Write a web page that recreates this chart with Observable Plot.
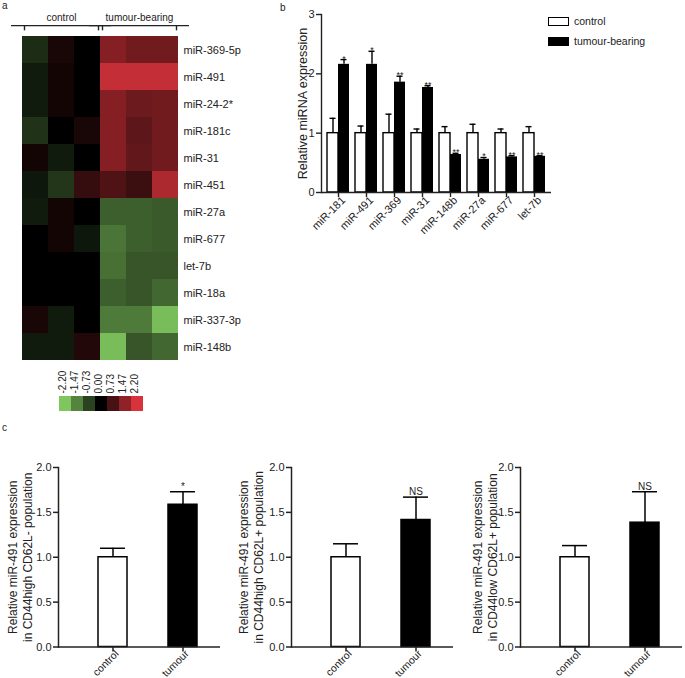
<!DOCTYPE html>
<html><head><meta charset="utf-8">
<script src="https://cdn.jsdelivr.net/npm/d3@7"></script>
<script src="https://cdn.jsdelivr.net/npm/@observablehq/plot@0.6"></script>
<style>
body{margin:0;background:#fff;}
#root{position:relative;width:685px;height:678px;overflow:hidden;font-family:Arial,"Liberation Sans",sans-serif;color:#222;}
.lab{position:absolute;font-size:10px;line-height:12px;white-space:nowrap;}
.sw{position:absolute;width:21px;height:9px;box-sizing:border-box;border:1.3px solid #000;}
</style></head><body><div id="root"></div>
<script>
// ---------- Panel a: heatmap data ----------
const samples = ["C1", "C2", "C3", "T1", "T2", "T3"];
const heatRows = ["miR-369-5p", "miR-491", "miR-24-2*", "miR-181c", "miR-31", "miR-451",
  "miR-27a", "miR-677", "let-7b", "miR-18a", "miR-337-3p", "miR-148b"];
const heatValues = [
  [-0.5, 0.25, 0, 1.35, 1.15, 1.15],
  [-0.3, 0.2, 0, 2.0, 2.0, 2.0],
  [-0.3, 0.2, 0, 1.35, 1.1, 1.15],
  [-0.55, 0, 0.25, 1.35, 0.95, 1.15],
  [0.2, -0.3, 0, 1.35, 1.0, 1.15],
  [-0.25, -0.6, 0.55, 0.8, 0.6, 1.75],
  [-0.3, 0.2, 0, -1.05, -1.05, -1.0],
  [0, 0.2, -0.25, -1.3, -1.05, -1.0],
  [0, 0, 0, -1.25, -0.95, -0.95],
  [0, 0, 0, -1.05, -0.95, -1.15],
  [0.25, -0.3, 0, -1.35, -1.35, -2.1],
  [-0.3, -0.3, 0.35, -2.1, -0.95, -1.15]
];
const heatGroups = ["control", "tumour-bearing"];
const heatGroupFirst = ["C1", "T1"];
const heatGroupMid = ["C2", "T2"];
const heatGroupLast = ["C3", "T3"];
const legendTicks = [-2.2, -1.47, -0.73, 0, 0.73, 1.47, 2.2];

// ---------- Panel b: bar chart data ----------
const mirnas = ["miR-181", "miR-491", "miR-369", "miR-31", "miR-148b", "miR-27a", "miR-677", "let-7b"];
const controlMean = [1, 1, 1, 1, 1, 1, 1, 1];
const controlErr = [1.25, 1.12, 1.32, 1.07, 1.11, 1.15, 1.07, 1.11];
const tumourMean = [2.16, 2.16, 1.86, 1.77, 0.64, 0.56, 0.60, 0.61];
const tumourErr = [2.24, 2.38, 1.96, 1.80, 0.66, 0.59, 0.62, 0.62];
const stars = ["*", "*", "**", "**", "**", "*", "**", "**"];
const seriesNames = ["control", "tumour-bearing"];

// ---------- Panel c data ----------
const popGroups = ["control", "tumour"];
const popLabels = [
  "Relative miR-491 expression\nin CD44high CD62L- population",
  "Relative miR-491 expression\nin CD44high CD62L+ population",
  "Relative miR-491 expression\nin CD44low CD62L+ population"
];
const popMeans = [[1.0, 1.585], [1.0, 1.415], [1.0, 1.385]];
const popErrs = [[1.10, 1.73], [1.15, 1.67], [1.13, 1.73]];
const popSig = ["*", "NS", "NS"];
const cTicks = [0, 0.5, 1, 1.5, 2];

// ---------- helpers ----------
const root = document.getElementById("root");
const FONT = "Arial, 'Liberation Sans', sans-serif";
function place(node, left, top) {
  node.style.position = "absolute";
  node.style.left = left + "px";
  node.style.top = top + "px";
  root.appendChild(node);
}
function label(text, left, top, size) {
  const d = document.createElement("div");
  d.className = "lab"; d.textContent = text;
  d.style.left = left + "px"; d.style.top = top + "px";
  if (size) d.style.fontSize = size + "px";
  root.appendChild(d);
}
const baseStyle = {fontFamily: FONT, fontSize: "11px", color: "#222", background: "transparent", overflow: "visible"};
const colorScale = {type: "linear", domain: [-2.2, 0, 2.2], range: ["#7fc65e", "#000000", "#d8333b"], interpolate: "rgb"};

// ---------- Panel a ----------
const heatData = [];
heatRows.forEach((r, i) => samples.forEach((s, j) => heatData.push({row: r, sample: s, value: heatValues[i][j]})));

const hdr = Plot.plot({
  width: 240, height: 33, marginLeft: 20, marginRight: 60, marginTop: 0, marginBottom: 0,
  style: {...baseStyle, fontSize: "10px"},
  x: {domain: samples, padding: 0, axis: null},
  y: {domain: [0, 1], axis: null},
  marks: [
    Plot.cell(samples, {x: d => d, fill: "none"}),
    Plot.text(heatGroups, {x: (d, i) => heatGroupMid[i], y: 0.48, text: d => d, fontSize: 10, fill: "#222"}),
    Plot.ruleY(heatGroups, {x1: (d, i) => heatGroupFirst[i], x2: (d, i) => heatGroupLast[i], y: 0.24, insetLeft: -11, insetRight: -11, stroke: "#222", strokeWidth: 1.4}),
    Plot.ruleX(heatGroups, {x: (d, i) => heatGroupFirst[i], y1: 0.08, y2: 0.24, dx: -11, stroke: "#222", strokeWidth: 1.4}),
    Plot.ruleX(heatGroups, {x: (d, i) => heatGroupLast[i], y1: 0.08, y2: 0.24, dx: 11, stroke: "#222", strokeWidth: 1.4})
  ]
});
place(hdr, 0, 0);

const heat = Plot.plot({
  width: 240, height: 329, marginLeft: 20, marginRight: 60, marginTop: 0, marginBottom: 0,
  style: baseStyle,
  x: {domain: samples, padding: 0, axis: null},
  y: {domain: heatRows, padding: 0, label: null},
  color: colorScale,
  marks: [
    Plot.cell(heatData, {x: "sample", y: "row", fill: "value", inset: 0, shapeRendering: "crispEdges"}),
    Plot.axisY({anchor: "right", tickSize: 0, tickPadding: 3, label: null, fontSize: 11})
  ]
});
place(heat, 0, 33);

const key = Plot.plot({
  width: 240, height: 55, marginLeft: 57, marginRight: 95, marginTop: 0, marginBottom: 4,
  style: baseStyle,
  x: {domain: legendTicks, padding: 0, axis: null},
  y: {axis: null},
  color: colorScale,
  marks: [
    Plot.cell(legendTicks, {x: d => d, fill: d => d, insetTop: 36}),
    Plot.text(legendTicks, {x: d => d, text: d => d.toFixed(2), rotate: -90, textAnchor: "start", frameAnchor: "bottom", dy: -18, fontSize: 10, fill: "#222"})
  ]
});
place(key, 0, 360);

// ---------- Panel b ----------
const bData = mirnas.map((m, i) => ({mir: m, c: controlMean[i], ce: controlErr[i], t: tumourMean[i], te: tumourErr[i], s: stars[i]}));
const BW = 22;
const bPlot = Plot.plot({
  width: 300, height: 260, marginLeft: 61, marginRight: 9, marginTop: 14, marginBottom: 68,
  style: baseStyle,
  x: {domain: mirnas, paddingInner: 0.217, paddingOuter: 0.2, label: null},
  y: {domain: [0, 3], label: null},
  marks: [
    Plot.ruleX(bData, {x: "mir", y1: "c", y2: "ce", dx: -BW / 4, stroke: "#000", strokeWidth: 1.4}),
    Plot.tickY(bData, {x: "mir", y: "ce", insetLeft: 2.5, insetRight: 13.5, stroke: "#000", strokeWidth: 1.4}),
    Plot.ruleX(bData, {x: "mir", y1: "t", y2: "te", dx: BW / 4, stroke: "#000", strokeWidth: 1.4}),
    Plot.tickY(bData, {x: "mir", y: "te", insetLeft: 13.5, insetRight: 2.5, stroke: "#000", strokeWidth: 1.4}),
    Plot.barY(bData, {x: "mir", y: "c", insetRight: BW / 2, fill: "white", stroke: "#000", strokeWidth: 1.4}),
    Plot.barY(bData, {x: "mir", y: "t", insetLeft: BW / 2, fill: "#000"}),
    Plot.text(bData, {x: "mir", y: "te", text: "s", dx: BW / 4, lineAnchor: "bottom", dy: 2, fontSize: 9, fill: "#222"}),
    Plot.ruleY([0], {stroke: "#222", strokeWidth: 1.4}),
    Plot.frame({anchor: "left", stroke: "#222", strokeWidth: 1.4}),
    Plot.axisY({ticks: [0, 1, 2, 3], tickFormat: "d", tickSize: 5, tickPadding: 2, label: null, strokeWidth: 1.4, fontSize: 11}),
    Plot.axisX({tickSize: 5, tickFormat: () => "", label: null, strokeWidth: 1.4}),
    Plot.axisX({tickSize: 0, tickPadding: 6, dx: 5, tickRotate: -45, label: null, fontSize: 11}),
    Plot.text(["Relative miRNA expression"], {frameAnchor: "left", textAnchor: "middle", lineAnchor: "middle", rotate: -90, dx: -19, fontSize: 12.5, fill: "#222"})
  ]
});
place(bPlot, 260, 0);

// legend for b
const sw1 = document.createElement("div"); sw1.className = "sw"; sw1.style.left = "548px"; sw1.style.top = "17px"; sw1.style.background = "#fff"; root.appendChild(sw1);
const sw2 = document.createElement("div"); sw2.className = "sw"; sw2.style.left = "548px"; sw2.style.top = "37px"; sw2.style.background = "#000"; root.appendChild(sw2);
label(seriesNames[0], 574, 15, 10.5);
label(seriesNames[1], 574, 35, 10.5);

// ---------- Panel c ----------
const cLefts = [0, 233, 462];
const cLabelDx = [-39, -41, -36];
popMeans.forEach((means, k) => {
  const cData = popGroups.map((g, i) => ({g, m: means[i], e: popErrs[k][i], sig: i === 1 ? popSig[k] : ""}));
  const p = Plot.plot({
    width: 228, height: 218, marginLeft: 58, marginRight: 8, marginTop: 7, marginBottom: 31.5,
    style: baseStyle,
    x: {domain: popGroups, paddingInner: 0.592, paddingOuter: 0.437, align: 0.637, label: null},
    y: {domain: [0, 2], label: null},
    marks: [
      Plot.ruleX(cData, {x: "g", y1: "m", y2: "e", stroke: "#000", strokeWidth: 1.5}),
      Plot.tickY(cData, {x: "g", y: "e", insetLeft: 2, insetRight: 2, stroke: "#000", strokeWidth: 1.5}),
      Plot.barY(cData, {x: "g", y: "m", fill: (d, i) => i === 0 ? "white" : "black", stroke: "#000", strokeWidth: 1.5}),
      Plot.text(cData, {x: "g", y: "e", text: "sig", lineAnchor: "bottom", dy: -2, fontSize: 10, fill: "#222"}),
      Plot.ruleY([0], {stroke: "#222", strokeWidth: 1.5}),
      Plot.frame({anchor: "left", stroke: "#222", strokeWidth: 1.5}),
      Plot.axisY({ticks: cTicks, tickFormat: d3.format(".1f"), tickSize: 5, tickPadding: 2, label: null, strokeWidth: 1.5, fontSize: 11}),
      Plot.axisX({tickSize: 5, tickFormat: () => "", label: null, strokeWidth: 1.5}),
      Plot.axisX({tickSize: 0, tickPadding: 5, dx: 4, tickRotate: -45, label: null, fontSize: 10.5}),
      Plot.text([popLabels[k]], {frameAnchor: "left", textAnchor: "middle", lineAnchor: "middle", rotate: -90, dx: cLabelDx[k], fontSize: 12, lineHeight: 1.25, fill: "#222"})
    ]
  });
  place(p, cLefts[k], 460);
});

// panel letters
label("a", 2, 0, 10);
label("b", 280, 2, 10);
label("c", 2, 422, 10);
</script></body></html>
